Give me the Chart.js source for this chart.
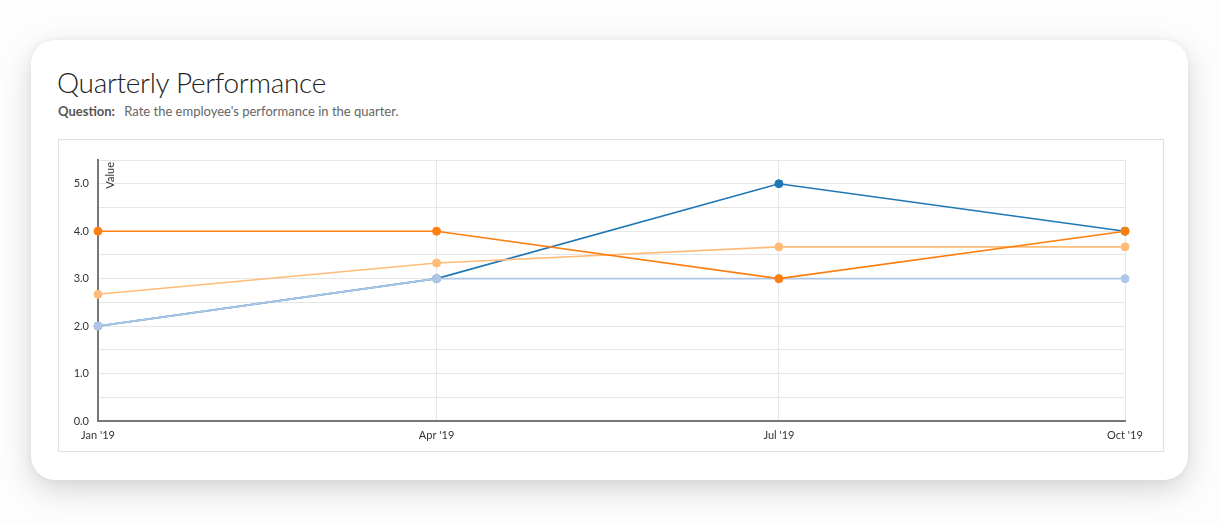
<!DOCTYPE html>
<html>
<head>
<meta charset="utf-8">
<script src="https://cdn.jsdelivr.net/npm/chart.js@4"></script>
<style>
  html, body { margin: 0; padding: 0; background: #fdfdfd; width: 1222px; height: 522px; overflow: hidden; font-family: Lato, "Open Sans", sans-serif; }
  #card { position: absolute; left: 31px; top: 40px; width: 1157px; height: 440px; background: #fff; border-radius: 24px; box-shadow: 0 10px 30px rgba(0,0,0,0.16), 0 0 6px rgba(0,0,0,0.05); }
  #title { position: absolute; left: 57px; top: 65px; font-size: 28px; font-weight: 300; color: #222; letter-spacing: -0.3px; line-height: 34px; white-space: nowrap; }
  #sub { position: absolute; left: 58px; top: 102px; font-size: 13px; color: #666; line-height: 18px; white-space: nowrap; }
  #sub b { color: #555; font-weight: 700; margin-right: 6px; }
  #box { position: absolute; left: 58px; top: 139px; width: 1104px; height: 311px; border: 1px solid #e0e0e0; }
  #wrap { position: absolute; left: 0; top: 0; width: 1104px; height: 311px; }
</style>
</head>
<body>
<div id="card"></div>
<div id="title">Quarterly Performance</div>
<div id="sub"><b>Question:</b> Rate the employee's performance in the quarter.</div>
<div id="box"><div id="wrap"><canvas id="c"></canvas></div></div>
<script>
const categories = ["2019-01-01", "2019-04-01", "2019-07-01", "2019-10-01"];
const tickLabels = ["Jan '19", "Apr '19", "Jul '19", "Oct '19"];
const seriesDarkOrange = [4.0, 4.0, 3.0, 4.0];
const seriesLightOrange = [2.67, 3.33, 3.67, 3.67];
const seriesLightBlue = [2.0, 3.0, 3.0, 3.0];
const seriesDarkBlue = [2.0, 3.0, 5.0, 4.0];
const yAxisTitle = "Value";

// time axis: days since first category
const DAY = 86400000;
const t0 = Date.parse(categories[0] + "T00:00:00Z");
const xDays = categories.map(d => Math.round((Date.parse(d + "T00:00:00Z") - t0) / DAY));

function ds(label, data, color) {
  return { label, data: data.map((v, i) => ({ x: xDays[i], y: v })), borderColor: color, backgroundColor: color,
    pointBackgroundColor: color, pointBorderColor: color, pointRadius: 4, pointBorderWidth: 1,
    borderWidth: 1.6, tension: 0, fill: false, clip: false };
}

const axisTitlePlugin = {
  id: 'axisTitle',
  afterDraw(chart) {
    const ctx = chart.ctx, a = chart.chartArea;
    ctx.save();
    ctx.translate(a.left + 12, a.top + 2);
    ctx.rotate(-Math.PI / 2);
    ctx.font = '11px Lato, "Open Sans", sans-serif';
    ctx.fillStyle = '#333';
    ctx.textAlign = 'right';
    ctx.textBaseline = 'middle';
    ctx.fillText(yAxisTitle, 0, 0);
    ctx.restore();
  }
};

new Chart(document.getElementById('c'), {
  type: 'line',
  data: {
    datasets: [
      ds('Series A', seriesDarkOrange, '#ff7f0e'),
      ds('Series B', seriesLightOrange, '#ffbb78'),
      ds('Series C', seriesLightBlue, '#aec7e8'),
      ds('Series D', seriesDarkBlue, '#1f77b4')
    ]
  },
  options: {
    responsive: true,
    maintainAspectRatio: false,
    animation: false,
    layout: { padding: { top: 20, right: 38, left: 0, bottom: 0 } },
    plugins: { legend: { display: false }, tooltip: { enabled: false } },
    scales: {
      x: {
        type: 'linear',
        min: xDays[0], max: xDays[xDays.length - 1],
        afterBuildTicks(s) { s.ticks = xDays.map(v => ({ value: v })); },
        grid: { color: '#e6e6e6', lineWidth: 1, drawTicks: false },
        border: { color: '#777', width: 2 },
        ticks: { color: '#333', font: { family: 'Lato, "Open Sans", sans-serif', size: 11 }, padding: 8, maxRotation: 0, autoSkip: false,
          callback: v => tickLabels[xDays.indexOf(v)] },
        afterFit(s) { s.height = 30; }
      },
      y: {
        min: 0, max: 5.5,
        grid: { color: '#e6e6e6', lineWidth: 1, drawTicks: false },
        border: { color: '#777', width: 2 },
        ticks: { stepSize: 0.5, color: '#333', font: { family: 'Lato, "Open Sans", sans-serif', size: 11 }, padding: 9,
          callback: v => (Math.abs(v - Math.round(v)) < 1e-9 ? v.toFixed(1) : '') },
        afterFit(s) { s.width = 39; }
      }
    }
  },
  plugins: [axisTitlePlugin]
});
</script>
</body>
</html>
